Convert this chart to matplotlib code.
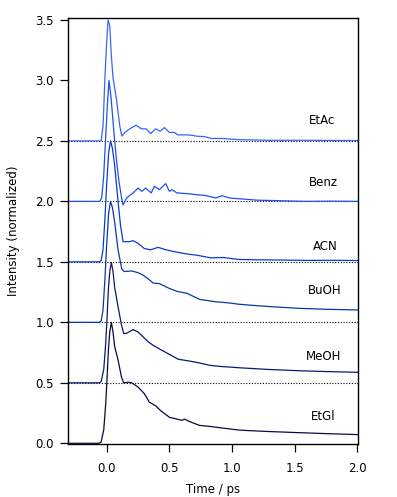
import matplotlib
matplotlib.use('Agg')
import matplotlib.pyplot as plt
import numpy as np

# solvents, baseline offsets, colours
names = ['EtGl', 'MeOH', 'BuOH', 'ACN', 'Benz', 'EtAc']
offsets = [0.0, 0.5, 1.0, 1.5, 2.0, 2.5]
colors = ['#0a0a40', '#0a1a70', '#0a38a8', '#0a3acc', '#1f4ff0', '#3366ff']

# traces (time in ps, offset intensity)
t_etgl = [-0.31, -0.06, -0.045, -0.024, -0.008, 0.003, 0.013, 0.024, 0.037, 0.05, 0.063, 0.09,
          0.117, 0.135, 0.17, 0.2, 0.25, 0.3, 0.34, 0.39, 0.43, 0.5, 0.56, 0.6, 0.62, 0.66, 0.74,
          0.82, 0.93, 1.05, 1.13, 1.3, 1.53, 1.75, 2.0]
y_etgl = [0.0, 0.0, 0.01, 0.11, 0.33, 0.55, 0.77, 0.92, 1.0, 0.92, 0.8, 0.69,
          0.55, 0.5, 0.505, 0.5, 0.465, 0.41, 0.34, 0.31, 0.27, 0.215, 0.2, 0.19, 0.2, 0.18, 0.148,
          0.14, 0.125, 0.11, 0.105, 0.097, 0.088, 0.08, 0.072]

t_meoh = [-0.31, -0.06, -0.045, -0.024, -0.008, 0.003, 0.013, 0.024, 0.037, 0.05, 0.063, 0.09,
          0.117, 0.135, 0.16, 0.21, 0.25, 0.3, 0.33, 0.37, 0.42, 0.5, 0.57, 0.66, 0.74, 0.82,
          0.9, 1.05, 1.13, 1.3, 1.53, 1.75, 2.0]
y_meoh = [0.5, 0.5, 0.51, 0.61, 0.83, 1.05, 1.27, 1.42, 1.495, 1.42, 1.29, 1.13,
          0.98, 0.907, 0.91, 0.94, 0.92, 0.87, 0.84, 0.81, 0.78, 0.735, 0.695, 0.68, 0.664, 0.645,
          0.636, 0.625, 0.62, 0.61, 0.6, 0.593, 0.587]

t_buoh = [-0.31, -0.06, -0.045, -0.03, -0.015, 0.0, 0.015, 0.03, 0.045, 0.063, 0.09, 0.12,
          0.14, 0.2, 0.25, 0.29, 0.33, 0.37, 0.42, 0.5, 0.56, 0.64, 0.74, 0.87, 0.98, 1.05,
          1.13, 1.3, 1.53, 1.75, 2.0]
y_buoh = [1.0, 1.0, 1.01, 1.1, 1.35, 1.65, 1.9, 2.0, 1.95, 1.83, 1.6, 1.44,
          1.42, 1.425, 1.41, 1.39, 1.36, 1.325, 1.32, 1.28, 1.256, 1.24, 1.19, 1.17, 1.16, 1.15,
          1.143, 1.13, 1.116, 1.108, 1.102]

t_acn = [-0.31, -0.06, -0.045, -0.03, -0.015, 0.0, 0.015, 0.03, 0.045, 0.063, 0.09, 0.11,
         0.13, 0.18, 0.21, 0.25, 0.3, 0.35, 0.41, 0.47, 0.56, 0.64, 0.72, 0.83, 0.93, 1.05,
         1.2, 1.4, 1.6, 1.8, 2.0]
y_acn = [1.5, 1.5, 1.51, 1.6, 1.85, 2.15, 2.4, 2.5, 2.44, 2.3, 2.0, 1.8,
         1.667, 1.667, 1.675, 1.653, 1.61, 1.6, 1.62, 1.6, 1.58, 1.565, 1.555, 1.533, 1.536, 1.52,
         1.517, 1.515, 1.512, 1.513, 1.511]

t_benz = [-0.31, -0.056, -0.04, -0.025, -0.01, 0.005, 0.018, 0.035, 0.063, 0.08, 0.098, 0.12,
          0.13, 0.16, 0.21, 0.25, 0.28, 0.31, 0.355, 0.38, 0.42, 0.47, 0.5, 0.52, 0.56, 0.64,
          0.72, 0.78, 0.87, 0.92, 0.98, 1.05, 1.2, 1.4, 1.6, 1.8, 2.0]
y_benz = [2.0, 2.0, 2.03, 2.2, 2.5, 2.8, 3.0, 2.85, 2.5, 2.32, 2.16, 2.02,
          1.97, 2.03, 2.07, 2.11, 2.083, 2.11, 2.07, 2.125, 2.097, 2.147, 2.083, 2.097, 2.07, 2.064,
          2.055, 2.05, 2.028, 2.047, 2.028, 2.022, 2.01, 2.005, 2.0, 2.002, 2.0]

t_etac = [-0.31, -0.045, -0.029, -0.016, -0.003, 0.01, 0.024, 0.037, 0.05, 0.077, 0.103, 0.12,
          0.145, 0.17, 0.2, 0.235, 0.275, 0.315, 0.35, 0.39, 0.426, 0.46, 0.5, 0.54, 0.566, 0.64,
          0.69, 0.71, 0.78, 0.84, 0.92, 1.06, 1.3, 1.6, 2.0]
y_etac = [2.5, 2.5, 2.63, 2.99, 3.27, 3.5, 3.45, 3.2, 3.02, 2.85, 2.63, 2.54,
          2.57, 2.59, 2.61, 2.63, 2.6, 2.6, 2.56, 2.6, 2.58, 2.61, 2.57, 2.57, 2.55, 2.55,
          2.545, 2.54, 2.535, 2.52, 2.52, 2.51, 2.505, 2.505, 2.503]

times = [t_etgl, t_meoh, t_buoh, t_acn, t_benz, t_etac]
traces = [y_etgl, y_meoh, y_buoh, y_acn, y_benz, y_etac]

# where the solvent names sit
label_t = [1.73, 1.73, 1.74, 1.74, 1.73, 1.72]
label_y = [0.223, 0.714, 1.26, 1.63, 2.16, 2.67]

xticks = [0.0, 0.5, 1.0, 1.5, 2.0]
yticks = [0.0, 0.5, 1.0, 1.5, 2.0, 2.5, 3.0, 3.5]

plt.rcParams['font.family'] = ['DejaVu Sans']
plt.rcParams['font.size'] = 8.5

fig = plt.figure(figsize=(3.97, 4.97), dpi=100)
ax = fig.add_axes([0.171, 0.1066, 0.731, 0.8574])

for off in offsets[1:]:
    ax.axhline(off, color='black', lw=0.8, linestyle=(0, (1, 1.5)), zorder=1)

for t, y, c in zip(times, traces, colors):
    ax.plot(t, y, color=c, lw=0.9, zorder=2)

for n, lt, ly in zip(names, label_t, label_y):
    ax.text(lt, ly, n, ha='center', va='center', fontsize=8.5)

ax.set_xlim(-0.31, 2.005)
ax.set_ylim(-0.006, 3.517)
ax.set_xticks(xticks)
ax.set_xticklabels(['%.1f' % v for v in xticks])
ax.set_yticks(yticks)
ax.set_yticklabels(['%.1f' % v for v in yticks])
ax.tick_params(direction='out', length=6, width=0.9, top=False, right=False)
ax.tick_params(axis='x', pad=7)
ax.tick_params(axis='y', pad=4)
for s in ax.spines.values():
    s.set_linewidth(1.0)

ax.set_xlabel('Time / ps', labelpad=6)
ax.set_ylabel('Intensity (normalized)', labelpad=11)

fig.savefig('out.png', dpi=100)
